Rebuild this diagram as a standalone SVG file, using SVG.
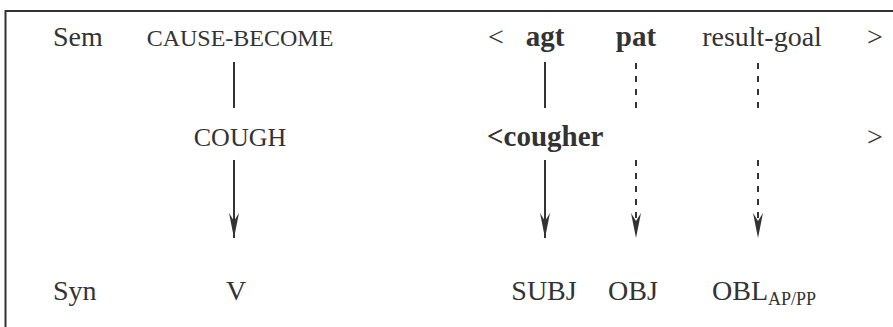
<svg xmlns="http://www.w3.org/2000/svg" width="893" height="327" viewBox="0 0 893 327">
<defs>
<style>
text{font-family:"Liberation Serif","Times New Roman",serif;fill:#333;font-size:28px}
.b{font-weight:bold;font-size:29px}
.sc{font-size:24px}
.sc2{font-size:26px}
.sub{font-size:18px}
.ln{stroke:#333;stroke-width:2;fill:none}
.ds{stroke-dasharray:6 7}
</style>
<marker id="ah" viewBox="0 0 25 10" markerWidth="25" markerHeight="10" refX="25" refY="5" orient="auto" markerUnits="userSpaceOnUse">
<path d="M25,5 L0,0 L8,5 L0,10 Z" fill="#333"/>
</marker>
</defs>
<g id="frame">
<path class="ln" d="M5.5,327 V11 H893"/>
</g>
<g id="row-labels">
<text x="53" y="46">Sem</text>
<text x="53" y="300">Syn</text>
</g>
<g id="cause-become"><text class="sc" x="240" y="46" text-anchor="middle">CAUSE-BECOME</text></g>
<g id="cough"><text class="sc2" x="240" y="146" text-anchor="middle">COUGH</text></g>
<g id="v"><text x="236" y="300" text-anchor="middle">V</text></g>
<g id="sem-args">
<text x="488" y="46">&lt;</text>
<text class="b" x="545" y="46" text-anchor="middle">agt</text>
<text class="b" x="636" y="46" text-anchor="middle">pat</text>
<text x="762" y="46" text-anchor="middle">result-goal</text>
<text x="867" y="46">&gt;</text>
</g>
<g id="cougher">
<text class="b" x="487" y="146">&lt;cougher</text>
<text x="867" y="146">&gt;</text>
</g>
<g id="subj"><text x="544" y="300" text-anchor="middle">SUBJ</text></g>
<g id="obj"><text x="633" y="300" text-anchor="middle">OBJ</text></g>
<g id="obl"><text x="712" y="300">OBL<tspan class="sub" dy="5">AP/PP</tspan></text></g>
<g id="connectors">
<line class="ln" x1="234" y1="62" x2="234" y2="108"/>
<line class="ln" x1="234" y1="160" x2="234" y2="238" marker-end="url(#ah)"/>
<line class="ln" x1="545" y1="62" x2="545" y2="108"/>
<line class="ln" x1="545" y1="160" x2="545" y2="238" marker-end="url(#ah)"/>
<line class="ln ds" x1="636" y1="63" x2="636" y2="108"/>
<line class="ln ds" x1="636" y1="160" x2="636" y2="238" marker-end="url(#ah)"/>
<line class="ln ds" x1="758" y1="63" x2="758" y2="108"/>
<line class="ln ds" x1="758" y1="160" x2="758" y2="238" marker-end="url(#ah)"/>
</g>
</svg>
